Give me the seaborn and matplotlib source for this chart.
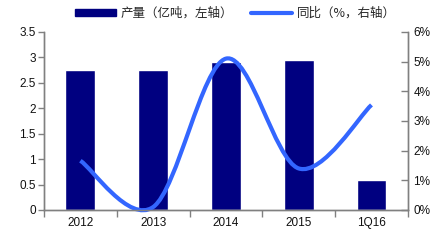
import numpy as np
import pandas as pd
import seaborn as sns
import matplotlib
matplotlib.use("Agg")
import matplotlib.pyplot as plt
from matplotlib.path import Path
from matplotlib.patches import PathPatch, Patch
from matplotlib.lines import Line2D
from matplotlib.ticker import FuncFormatter

categories = ["2012", "2013", "2014", "2015", "1Q16"]
output_values = [2.76, 2.76, 2.90, 2.94, 0.59]
yoy_values = [1.66, 0.1, 5.1, 1.4, 3.54]
left_ticks = [0, 0.5, 1, 1.5, 2, 2.5, 3, 3.5]
right_ticks = [0, 1, 2, 3, 4, 5, 6]
legend_labels = ["产量（亿吨，左轴）", "同比（%，右轴）"]

BAR_COLOR = "#000080"
LINE_COLOR = "#3366FF"
SPINE_COLOR = "#808080"

sns.set_theme(style="white")
plt.rcParams["font.family"] = ["Liberation Sans", "Noto Sans CJK SC", "DejaVu Sans"]

fig = plt.figure(figsize=(4.4, 2.4), dpi=100)
ax = fig.add_axes([0.1, 0.125, 0.827, 0.742])

df = pd.DataFrame({"cat": categories, "val": output_values})
sns.barplot(data=df, x="cat", y="val", color=BAR_COLOR, saturation=1,
            width=0.41, ax=ax)
ax.set_xlim(-0.5, len(categories) - 0.5)
ax.set_ylim(0, 3.5)
ax.set_yticks(left_ticks)
ax.yaxis.set_major_formatter(FuncFormatter(lambda v, p: f"{v:g}"))
ax.set_xlabel("")
ax.set_ylabel("")

# x tick marks at category boundaries, labels at centers
ax.set_xticks(np.arange(-0.5, len(categories), 1.0))
ax.set_xticklabels([])
ax.set_xticks(np.arange(len(categories)), minor=True)
ax.set_xticklabels(categories, minor=True, fontsize=8.5, color="#111111")
ax.tick_params(axis="x", which="major", direction="out", length=5,
               color=SPINE_COLOR, width=1, bottom=True)
ax.tick_params(axis="x", which="minor", length=0, pad=5, bottom=True)
ax.tick_params(axis="y", direction="out", length=4, color=SPINE_COLOR,
               width=1, labelsize=8.5, labelcolor="#111111", left=True, pad=2)

ax2 = ax.twinx()
ax2.set_ylim(0, 6)
ax2.set_yticks(right_ticks)
ax2.yaxis.set_major_formatter(FuncFormatter(lambda v, p: f"{v:g}%"))
ax2.tick_params(axis="y", direction="in", length=5, color=SPINE_COLOR,
                width=1, labelsize=8.5, labelcolor="#111111", right=True, pad=4)

# smoothed line (Catmull-Rom style Bezier, as in spreadsheet smoothing)
xs = np.arange(len(yoy_values), dtype=float)
ys = np.asarray(yoy_values, dtype=float)
n = len(xs)
verts = [(xs[0], ys[0])]
codes = [Path.MOVETO]
for i in range(n - 1):
    p0 = (xs[i - 1], ys[i - 1]) if i > 0 else (xs[i], ys[i])
    p1 = (xs[i], ys[i])
    p2 = (xs[i + 1], ys[i + 1])
    p3 = (xs[i + 2], ys[i + 2]) if i + 2 < n else (xs[i + 1], ys[i + 1])
    c1 = (p1[0] + (p2[0] - p0[0]) / 6, p1[1] + (p2[1] - p0[1]) / 6)
    c2 = (p2[0] - (p3[0] - p1[0]) / 6, p2[1] - (p3[1] - p1[1]) / 6)
    verts += [c1, c2, p2]
    codes += [Path.CURVE4] * 3
patch = PathPatch(Path(verts, codes), facecolor="none", edgecolor=LINE_COLOR,
                  lw=3, capstyle="butt", joinstyle="round", clip_on=False)
ax2.add_patch(patch)

for a in (ax, ax2):
    for s in a.spines.values():
        s.set_color(SPINE_COLOR)
        s.set_linewidth(1)
    a.spines["top"].set_visible(False)
    a.grid(False)

handles = [Patch(facecolor=BAR_COLOR, edgecolor=BAR_COLOR),
           Line2D([0], [0], color=LINE_COLOR, lw=3)]
fig.legend(handles, legend_labels, loc="center", bbox_to_anchor=(0.535, 0.945),
           ncol=2, frameon=False, handlelength=3.3, handleheight=0.55,
           columnspacing=1.4, handletextpad=0.4,
           prop={"family": ["Noto Sans CJK SC", "DejaVu Sans"], "size": 9})

fig.savefig("out.png", dpi=100)
